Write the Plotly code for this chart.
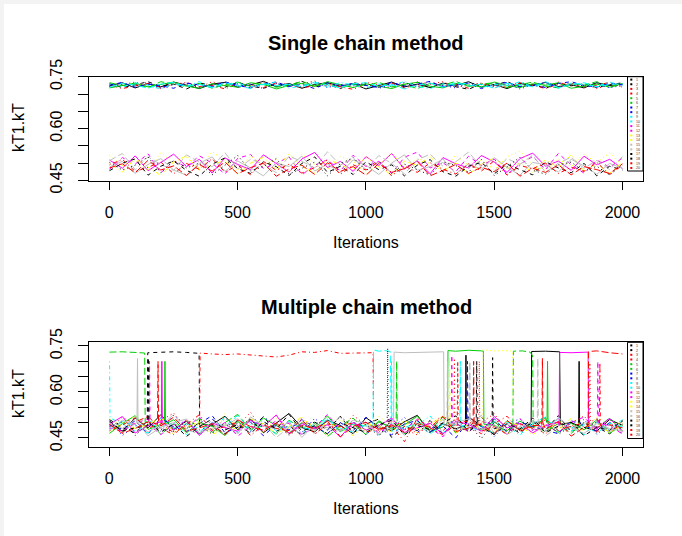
import numpy as np
import plotly.graph_objects as go

W, H = 682, 536

# ---------------- data: single chain method (20 chains, thinned trace) ----------------
s01 = [0.724,0.733,0.718,0.730,0.721,0.735,0.726,0.716,0.729,0.734,0.720,0.727,0.737,0.722,0.731,0.717,0.728,0.733,0.723,0.730,0.715,0.726,0.735,0.721,0.729,0.719,0.732,0.725,0.736,0.720,0.728,0.716,0.731,0.724,0.734,0.722,0.727,0.718,0.733,0.725,0.729]
s02 = [0.730,0.719,0.727,0.736,0.722,0.729,0.715,0.732,0.726,0.720,0.734,0.723,0.717,0.730,0.725,0.737,0.721,0.728,0.716,0.733,0.727,0.720,0.731,0.724,0.735,0.718,0.729,0.722,0.714,0.730,0.726,0.736,0.721,0.728,0.717,0.732,0.724,0.730,0.719,0.727,0.733]
s03 = [0.721,0.729,0.735,0.724,0.716,0.731,0.727,0.720,0.736,0.725,0.729,0.718,0.733,0.726,0.721,0.730,0.738,0.723,0.728,0.719,0.734,0.726,0.717,0.731,0.723,0.729,0.736,0.720,0.727,0.732,0.718,0.725,0.733,0.728,0.721,0.735,0.724,0.730,0.716,0.728,0.722]
s04 = [0.727,0.716,0.724,0.731,0.719,0.728,0.734,0.722,0.726,0.715,0.730,0.724,0.719,0.733,0.727,0.718,0.725,0.731,0.721,0.714,0.729,0.724,0.732,0.718,0.727,0.735,0.722,0.728,0.717,0.730,0.724,0.720,0.733,0.726,0.716,0.729,0.731,0.721,0.726,0.734,0.720]
s05 = [0.733,0.725,0.729,0.719,0.736,0.728,0.722,0.731,0.717,0.727,0.735,0.723,0.730,0.720,0.726,0.737,0.724,0.732,0.718,0.729,0.725,0.734,0.721,0.728,0.716,0.731,0.726,0.737,0.722,0.729,0.733,0.719,0.727,0.735,0.723,0.718,0.730,0.726,0.736,0.721,0.728]
s06 = [0.718,0.726,0.732,0.721,0.729,0.735,0.723,0.717,0.730,0.726,0.720,0.733,0.728,0.715,0.725,0.731,0.722,0.736,0.727,0.719,0.730,0.724,0.716,0.729,0.734,0.723,0.718,0.731,0.727,0.721,0.735,0.725,0.719,0.730,0.726,0.733,0.717,0.724,0.729,0.720,0.731]
s07 = [0.726,0.734,0.720,0.729,0.724,0.717,0.732,0.727,0.721,0.736,0.725,0.718,0.730,0.735,0.722,0.728,0.716,0.733,0.724,0.731,0.726,0.719,0.734,0.723,0.729,0.737,0.721,0.726,0.732,0.716,0.728,0.734,0.722,0.727,0.719,0.731,0.736,0.725,0.720,0.732,0.727]
s08 = [0.722,0.729,0.725,0.734,0.718,0.727,0.731,0.720,0.726,0.733,0.723,0.729,0.716,0.731,0.727,0.722,0.735,0.719,0.728,0.724,0.732,0.717,0.726,0.734,0.721,0.730,0.725,0.718,0.733,0.728,0.722,0.731,0.715,0.727,0.734,0.720,0.729,0.724,0.733,0.718,0.726]
s09 = [0.729,0.720,0.733,0.726,0.715,0.730,0.723,0.736,0.719,0.727,0.732,0.721,0.728,0.735,0.717,0.725,0.731,0.720,0.734,0.726,0.718,0.729,0.724,0.737,0.722,0.716,0.730,0.726,0.733,0.719,0.728,0.724,0.736,0.721,0.729,0.717,0.732,0.727,0.722,0.735,0.724]
s10 = [0.720,0.731,0.726,0.717,0.729,0.734,0.722,0.728,0.719,0.733,0.725,0.716,0.731,0.724,0.729,0.721,0.735,0.727,0.718,0.730,0.733,0.723,0.728,0.715,0.726,0.732,0.720,0.734,0.724,0.729,0.717,0.731,0.726,0.722,0.736,0.719,0.727,0.733,0.721,0.728,0.730]
s11 = [0.509,0.485,0.521,0.478,0.502,0.526,0.490,0.511,0.471,0.515,0.496,0.481,0.524,0.500,0.474,0.512,0.531,0.487,0.505,0.476,0.519,0.493,0.528,0.483,0.507,0.469,0.516,0.498,0.486,0.522,0.503,0.473,0.513,0.529,0.491,0.506,0.479,0.520,0.495,0.511,0.484]
s12 = [0.482,0.516,0.497,0.527,0.472,0.506,0.489,0.521,0.500,0.468,0.514,0.525,0.484,0.499,0.518,0.466,0.494,0.510,0.477,0.523,0.490,0.505,0.470,0.517,0.532,0.486,0.501,0.475,0.520,0.493,0.512,0.467,0.497,0.519,0.481,0.528,0.495,0.471,0.509,0.488,0.515]
s13 = [0.522,0.493,0.508,0.477,0.531,0.499,0.517,0.485,0.534,0.504,0.479,0.521,0.492,0.510,0.473,0.526,0.497,0.482,0.519,0.506,0.470,0.495,0.529,0.487,0.514,0.499,0.476,0.524,0.493,0.509,0.481,0.518,0.535,0.496,0.478,0.512,0.489,0.526,0.501,0.530,0.492]
s14 = [0.499,0.474,0.513,0.488,0.464,0.503,0.521,0.479,0.494,0.509,0.468,0.500,0.517,0.482,0.527,0.490,0.471,0.512,0.496,0.480,0.519,0.489,0.466,0.506,0.493,0.520,0.476,0.501,0.467,0.497,0.515,0.484,0.500,0.473,0.510,0.487,0.524,0.478,0.498,0.470,0.503]
s15 = [0.507,0.528,0.481,0.518,0.496,0.479,0.524,0.503,0.489,0.530,0.483,0.511,0.497,0.472,0.520,0.505,0.486,0.533,0.494,0.514,0.482,0.522,0.499,0.469,0.509,0.526,0.491,0.504,0.532,0.488,0.477,0.513,0.496,0.523,0.473,0.500,0.517,0.485,0.508,0.481,0.519]
s16 = [0.489,0.505,0.470,0.496,0.513,0.480,0.465,0.499,0.518,0.476,0.506,0.486,0.463,0.501,0.490,0.520,0.477,0.497,0.471,0.509,0.494,0.467,0.500,0.524,0.479,0.490,0.512,0.469,0.498,0.482,0.516,0.488,0.465,0.502,0.495,0.474,0.511,0.492,0.468,0.499,0.485]
s17 = [0.478,0.500,0.512,0.465,0.491,0.506,0.479,0.462,0.497,0.515,0.484,0.470,0.503,0.490,0.464,0.499,0.518,0.473,0.491,0.467,0.504,0.481,0.495,0.463,0.494,0.510,0.475,0.462,0.491,0.502,0.469,0.497,0.481,0.466,0.504,0.486,0.472,0.499,0.463,0.491,0.480]
s18 = [0.502,0.480,0.494,0.518,0.472,0.508,0.486,0.500,0.466,0.493,0.522,0.477,0.490,0.513,0.468,0.485,0.503,0.463,0.498,0.516,0.478,0.506,0.471,0.497,0.482,0.465,0.504,0.493,0.474,0.511,0.464,0.489,0.517,0.479,0.468,0.495,0.503,0.476,0.491,0.465,0.497]
s19 = [0.495,0.511,0.476,0.488,0.503,0.469,0.499,0.482,0.513,0.474,0.494,0.466,0.505,0.479,0.497,0.471,0.487,0.509,0.467,0.495,0.480,0.503,0.463,0.492,0.473,0.501,0.482,0.468,0.498,0.477,0.507,0.465,0.493,0.484,0.500,0.470,0.488,0.476,0.502,0.467,0.494]
s20 = [0.486,0.498,0.472,0.508,0.480,0.492,0.464,0.496,0.477,0.503,0.469,0.487,0.500,0.462,0.483,0.494,0.467,0.501,0.476,0.490,0.465,0.499,0.473,0.484,0.505,0.463,0.479,0.496,0.470,0.488,0.475,0.500,0.462,0.485,0.473,0.495,0.466,0.490,0.481,0.470,0.498]

# ---------------- data: multiple chain method (lower-mode trace per chain) ----------------
m01 = [0.501,0.472,0.515,0.483,0.526,0.478,0.505,0.463,0.494,0.521,0.477,0.511,0.467,0.498,0.530,0.484,0.470,0.508,0.491,0.464,0.516,0.487,0.474,0.503,0.524,0.469,0.496,0.480,0.518,0.490,0.462,0.506,0.476,0.513,0.493,0.468,0.500,0.485,0.473,0.510,0.491]
m02 = [0.510,0.484,0.466,0.504,0.475,0.496,0.525,0.469,0.492,0.463,0.509,0.481,0.519,0.472,0.490,0.458,0.502,0.477,0.521,0.466,0.495,0.512,0.452,0.488,0.474,0.507,0.464,0.499,0.471,0.517,0.480,0.494,0.465,0.503,0.476,0.523,0.470,0.497,0.486,0.463,0.505]
m03 = [0.480,0.518,0.494,0.468,0.507,0.531,0.481,0.498,0.473,0.513,0.489,0.534,0.470,0.502,0.483,0.515,0.462,0.496,0.476,0.524,0.491,0.469,0.505,0.479,0.460,0.497,0.521,0.472,0.488,0.501,0.529,0.475,0.494,0.466,0.511,0.482,0.497,0.522,0.470,0.492,0.478]
m04 = [0.494,0.467,0.502,0.520,0.481,0.461,0.497,0.473,0.511,0.485,0.465,0.496,0.478,0.506,0.469,0.491,0.517,0.477,0.459,0.500,0.481,0.471,0.509,0.488,0.466,0.503,0.474,0.513,0.486,0.464,0.497,0.521,0.472,0.489,0.463,0.504,0.477,0.494,0.512,0.470,0.496]
m05 = [0.517,0.488,0.472,0.506,0.462,0.496,0.479,0.514,0.468,0.500,0.527,0.475,0.491,0.464,0.508,0.482,0.498,0.455,0.489,0.515,0.473,0.502,0.485,0.463,0.505,0.477,0.518,0.466,0.494,0.476,0.506,0.459,0.491,0.523,0.471,0.497,0.465,0.502,0.481,0.516,0.474]
m06 = [0.465,0.497,0.523,0.478,0.494,0.510,0.467,0.501,0.488,0.458,0.504,0.476,0.515,0.491,0.466,0.500,0.481,0.522,0.471,0.496,0.461,0.506,0.479,0.493,0.521,0.470,0.486,0.502,0.464,0.511,0.491,0.474,0.505,0.483,0.517,0.468,0.498,0.477,0.509,0.465,0.494]
m07 = [0.491,0.479,0.506,0.463,0.516,0.486,0.471,0.497,0.523,0.467,0.484,0.502,0.457,0.494,0.476,0.510,0.486,0.465,0.500,0.474,0.518,0.481,0.460,0.496,0.507,0.471,0.489,0.450,0.497,0.480,0.513,0.468,0.502,0.487,0.475,0.464,0.506,0.491,0.473,0.500,0.485]
m08 = [0.506,0.458,0.489,0.501,0.472,0.524,0.491,0.463,0.511,0.482,0.497,0.470,0.520,0.487,0.502,0.468,0.514,0.478,0.491,0.506,0.461,0.495,0.482,0.517,0.469,0.489,0.464,0.504,0.479,0.493,0.455,0.497,0.512,0.474,0.487,0.501,0.472,0.511,0.462,0.496,0.480]
m09 = [0.512,0.497,0.472,0.509,0.484,0.501,0.461,0.490,0.478,0.518,0.467,0.494,0.505,0.474,0.489,0.463,0.498,0.512,0.482,0.469,0.495,0.460,0.507,0.480,0.491,0.522,0.467,0.497,0.484,0.473,0.503,0.489,0.459,0.501,0.481,0.513,0.472,0.494,0.466,0.498,0.487]
m10 = [0.478,0.503,0.491,0.465,0.515,0.482,0.497,0.470,0.501,0.487,0.524,0.474,0.494,0.462,0.505,0.484,0.476,0.513,0.468,0.497,0.489,0.520,0.472,0.484,0.499,0.463,0.495,0.507,0.476,0.490,0.465,0.503,0.480,0.496,0.519,0.471,0.487,0.460,0.501,0.477,0.510]
m11 = [0.495,0.520,0.466,0.490,0.503,0.475,0.509,0.458,0.499,0.484,0.472,0.507,0.488,0.525,0.464,0.497,0.480,0.493,0.453,0.501,0.476,0.490,0.515,0.468,0.482,0.498,0.462,0.505,0.494,0.472,0.520,0.483,0.497,0.467,0.490,0.503,0.459,0.496,0.480,0.514,0.470]
m12 = [0.483,0.473,0.498,0.512,0.461,0.494,0.482,0.519,0.469,0.501,0.456,0.489,0.474,0.507,0.497,0.462,0.484,0.527,0.476,0.490,0.502,0.466,0.496,0.477,0.511,0.483,0.454,0.499,0.469,0.505,0.489,0.462,0.513,0.476,0.495,0.468,0.501,0.518,0.474,0.489,0.463]
m13 = [0.513,0.489,0.524,0.477,0.497,0.462,0.506,0.493,0.475,0.529,0.483,0.499,0.468,0.514,0.480,0.502,0.492,0.458,0.509,0.486,0.474,0.520,0.490,0.499,0.466,0.494,0.511,0.482,0.471,0.504,0.495,0.526,0.477,0.491,0.464,0.506,0.484,0.475,0.518,0.493,0.500]
m14 = [0.468,0.500,0.481,0.494,0.516,0.471,0.486,0.503,0.459,0.490,0.478,0.512,0.496,0.464,0.488,0.520,0.474,0.500,0.483,0.458,0.498,0.488,0.470,0.508,0.479,0.493,0.523,0.466,0.496,0.481,0.471,0.504,0.490,0.460,0.496,0.477,0.514,0.486,0.498,0.467,0.492]
m15 = [0.500,0.481,0.508,0.469,0.492,0.526,0.479,0.462,0.502,0.489,0.514,0.475,0.498,0.451,0.486,0.504,0.473,0.494,0.518,0.465,0.487,0.480,0.501,0.459,0.496,0.471,0.510,0.490,0.477,0.524,0.467,0.494,0.483,0.506,0.456,0.489,0.475,0.500,0.487,0.470,0.503]
m16 = [0.474,0.508,0.493,0.457,0.485,0.500,0.512,0.467,0.481,0.496,0.463,0.519,0.490,0.479,0.502,0.452,0.494,0.484,0.473,0.508,0.498,0.462,0.485,0.523,0.475,0.489,0.468,0.500,0.512,0.477,0.494,0.461,0.487,0.502,0.470,0.517,0.483,0.465,0.497,0.481,0.473]
m17 = [0.505,0.473,0.483,0.520,0.469,0.496,0.455,0.487,0.512,0.476,0.494,0.465,0.503,0.480,0.527,0.472,0.490,0.463,0.499,0.483,0.468,0.493,0.508,0.460,0.491,0.477,0.499,0.522,0.471,0.486,0.461,0.497,0.479,0.515,0.467,0.489,0.502,0.457,0.485,0.475,0.507]
m18 = [0.487,0.503,0.458,0.496,0.479,0.471,0.506,0.491,0.463,0.500,0.481,0.514,0.469,0.494,0.459,0.487,0.502,0.475,0.520,0.486,0.494,0.456,0.481,0.503,0.490,0.467,0.498,0.477,0.492,0.449,0.501,0.483,0.471,0.496,0.508,0.462,0.489,0.479,0.503,0.493,0.465]
m19 = [0.473,0.492,0.516,0.481,0.499,0.467,0.493,0.526,0.475,0.487,0.503,0.458,0.492,0.481,0.474,0.510,0.463,0.496,0.487,0.500,0.469,0.478,0.489,0.438,0.514,0.483,0.460,0.495,0.505,0.472,0.487,0.462,0.497,0.481,0.511,0.474,0.489,0.499,0.469,0.493,0.483]
m20 = [0.495,0.465,0.481,0.503,0.489,0.518,0.472,0.483,0.497,0.460,0.509,0.487,0.475,0.499,0.463,0.491,0.480,0.505,0.454,0.488,0.501,0.477,0.493,0.468,0.497,0.485,0.520,0.471,0.482,0.495,0.465,0.507,0.474,0.491,0.478,0.503,0.456,0.485,0.497,0.472,0.487]

# visits of the multiple-chain sampler to the upper mode: chain -> list of (iteration, value) runs
m_upper_runs = {
    5:  [[(1, 0.730), (50, 0.731), (100, 0.729), (138, 0.727), (140, 0.500)],
         [(1118, 0.495), (1120, 0.700), (1122, 0.500)],
         [(1573, 0.490), (1575, 0.733), (1610, 0.734), (1640, 0.730), (1650, 0.718), (1652, 0.490)]],
    9:  [[(1, 0.700), (3, 0.515)],
         [(1098, 0.500), (1100, 0.700), (1102, 0.490)]],
    2:  [[(148, 0.505), (150, 0.728), (200, 0.729), (250, 0.731), (300, 0.729), (350, 0.726), (352, 0.495)],
         [(1492, 0.490), (1494, 0.712), (1496, 0.500)]],
    4:  [[(352, 0.490), (354, 0.727), (400, 0.724), (450, 0.722), (500, 0.724), (550, 0.720), (600, 0.716),
          (650, 0.714), (700, 0.720), (750, 0.731), (800, 0.729), (850, 0.735), (900, 0.726), (950, 0.727),
          (1000, 0.727), (1028, 0.728), (1030, 0.500)]],
    10: [[(1028, 0.490), (1030, 0.737), (1050, 0.733), (1075, 0.735), (1095, 0.732), (1100, 0.495)],
         [(1366, 0.500), (1368, 0.700), (1370, 0.490)]],
    16: [[(108, 0.505), (110, 0.709), (112, 0.498)],
         [(1108, 0.500), (1110, 0.730), (1150, 0.728), (1200, 0.729), (1250, 0.728), (1290, 0.730), (1303, 0.731), (1305, 0.490)]],
    6:  [[(215, 0.500), (217, 0.700), (219, 0.495)],
         [(1318, 0.500), (1320, 0.735), (1350, 0.733), (1400, 0.736), (1450, 0.734), (1458, 0.733), (1460, 0.495)],
         [(1706, 0.500), (1708, 0.700), (1710, 0.490)]],
    13: [[(1455, 0.490), (1457, 0.738), (1500, 0.734), (1540, 0.735), (1572, 0.733), (1575, 0.500)]],
    1:  [[(1388, 0.490), (1390, 0.720), (1392, 0.500)],
         [(1644, 0.500), (1646, 0.732), (1700, 0.733), (1755, 0.731), (1758, 0.495)],
         [(1829, 0.490), (1831, 0.700), (1833, 0.500)]],
    11: [[(203, 0.490), (205, 0.700), (207, 0.500)],
         [(1753, 0.490), (1755, 0.729), (1800, 0.728), (1850, 0.729), (1866, 0.730), (1868, 0.500)]],
    20: [[(188, 0.495), (190, 0.700), (192, 0.505)],
         [(1418, 0.500), (1420, 0.700), (1422, 0.490)],
         [(1686, 0.490), (1688, 0.710), (1690, 0.500)],
         [(1866, 0.490), (1868, 0.732), (1900, 0.734), (1950, 0.728), (2000, 0.724)]],
    17: [[(150, 0.490), (152, 0.712), (154, 0.500)],
         [(1430, 0.490), (1432, 0.700), (1434, 0.500)]],
    12: [[(155, 0.500), (157, 0.700), (159, 0.490)],
         [(1333, 0.490), (1335, 0.720), (1337, 0.495)],
         [(1902, 0.490), (1904, 0.700), (1906, 0.500)]],
    18: [[(1083, 0.490), (1085, 0.742), (1087, 0.500)]],
    15: [[(1316, 0.490), (1318, 0.700), (1320, 0.500)],
         [(1403, 0.490), (1405, 0.700), (1407, 0.495)],
         [(1668, 0.500), (1670, 0.710), (1672, 0.490)]],
    14: [[(1324, 0.500), (1326, 0.715), (1328, 0.490)]],
    3:  [[(1343, 0.500), (1345, 0.710), (1347, 0.490)],
         [(1440, 0.500), (1442, 0.700), (1444, 0.490)],
         [(1871, 0.500), (1873, 0.695), (1875, 0.490)]],
    19: [[(1356, 0.490), (1358, 0.700), (1360, 0.500)],
         [(1910, 0.500), (1912, 0.695), (1914, 0.490)]],
    7:  [[(1394, 0.500), (1396, 0.700), (1398, 0.490)]],
}

single_chains = [s01, s02, s03, s04, s05, s06, s07, s08, s09, s10,
                 s11, s12, s13, s14, s15, s16, s17, s18, s19, s20]
multi_chains = [m01, m02, m03, m04, m05, m06, m07, m08, m09, m10,
                m11, m12, m13, m14, m15, m16, m17, m18, m19, m20]
chain_labels = [str(k) for k in range(1, 21)]
x_ticks = [0, 500, 1000, 1500, 2000]
y_ticks = [0.45, 0.50, 0.55, 0.60, 0.65, 0.70, 0.75]
y_ticktext = ["0.45", "", "", "0.60", "", "", "0.75"]

# ---------------- styling ----------------
PAL = ["#000000", "#FF0000", "#00CD00", "#0000FF", "#00FFFF", "#FF00FF", "#FFFF00", "#BEBEBE"]
DASHES = ["solid", "4px,4px", "1px,3px", "1px,3px,4px,3px", "7px,3px"]
chain_colors = [PAL[(k // 2) % 8] for k in range(20)]
chain_dash = [DASHES[k % 5] for k in range(20)]
FONT = "Liberation Sans, Arial, Helvetica, sans-serif"

def px(xp):
    return xp / W

def py(yp):
    return 1 - yp / H

fig = go.Figure()

for k, vals in enumerate(single_chains):
    fig.add_trace(go.Scatter(
        x=np.linspace(1, 2000, len(vals)), y=vals, mode="lines",
        line=dict(color=chain_colors[k], width=1, dash=chain_dash[k]),
        xaxis="x", yaxis="y", showlegend=False, hoverinfo="skip"))

for k, vals in enumerate(multi_chains):
    c = k + 1
    pts = list(zip(np.linspace(1, 2000, len(vals)), vals))
    for run in m_upper_runs.get(c, []):
        lo, hi = run[0][0], run[-1][0]
        pts = [p for p in pts if not (lo <= p[0] <= hi)] + list(run)
    pts.sort(key=lambda p: p[0])
    fig.add_trace(go.Scatter(
        x=[p[0] for p in pts], y=[p[1] for p in pts], mode="lines",
        line=dict(color=chain_colors[k], width=1, dash=chain_dash[k]),
        xaxis="x2", yaxis="y2", showlegend=False, hoverinfo="skip"))

XDOM = [px(89), px(643)]
axis_common = dict(showgrid=False, zeroline=False, showline=True, linecolor="#000000",
                   linewidth=1, mirror=True, ticks="outside", tickcolor="#000000",
                   tickwidth=1, automargin=False,
                   tickfont=dict(family=FONT, size=16, color="#000000"))

fig.update_layout(
    template="none",
    width=W, height=H, autosize=False,
    margin=dict(l=0, r=0, t=0, b=0, pad=0, autoexpand=False),
    paper_bgcolor="#f3f3f3", plot_bgcolor="#ffffff",
    xaxis=dict(domain=XDOM, range=[-79, 2080], tickvals=x_ticks, ticklen=8,
               ticklabelstandoff=9, anchor="y", **axis_common),
    yaxis=dict(domain=[py(180.7), py(76.7)], range=[0.449, 0.7505], tickvals=y_ticks,
               ticktext=y_ticktext, tickangle=-90, ticklen=10, ticklabelstandoff=10,
               anchor="x", **axis_common),
    xaxis2=dict(domain=XDOM, range=[-79, 2080], tickvals=x_ticks, ticklen=8,
                ticklabelstandoff=9, anchor="y2", **axis_common),
    yaxis2=dict(domain=[py(446.7), py(342.3)], range=[0.4216, 0.762], tickvals=y_ticks,
                ticktext=y_ticktext, tickangle=-90, ticklen=10, ticklabelstandoff=10,
                anchor="x2", **axis_common),
)

shapes = [dict(type="rect", xref="paper", yref="paper", x0=px(4), x1=1, y0=0, y1=py(4),
               fillcolor="#ffffff", line=dict(width=0), layer="below")]
annotations = []

def add_text(text, x, y, size, bold=False, angle=0):
    annotations.append(dict(text=("<b>%s</b>" % text) if bold else text, x=px(x), y=py(y),
                            xref="paper", yref="paper", showarrow=False, textangle=angle,
                            xanchor="center", yanchor="middle",
                            font=dict(family=FONT, size=size, color="#000000")))

add_text("Single chain method", 366, 43, 20, bold=True)
add_text("Multiple chain method", 366, 307, 20, bold=True)
add_text("Iterations", 366, 242, 16)
add_text("Iterations", 366, 508, 16)
add_text("kT1.kT", 18, 128, 16, angle=-90)
add_text("kT1.kT", 18, 394, 16, angle=-90)

# in-plot legends (chain numbers): one text block per legend, squares as shapes
for top, bottom, first, step in [(76.7, 171, 79.6, 4.65), (342.3, 438.5, 345.4, 4.7)]:
    shapes.append(dict(type="rect", xref="paper", yref="paper", x0=px(627.5), x1=px(643),
                       y0=py(bottom), y1=py(top), line=dict(color="#000000", width=1),
                       fillcolor="rgba(0,0,0,0)"))
    for k in range(20):
        yy = first + k * step
        shapes.append(dict(type="rect", xref="paper", yref="paper", x0=px(630.3), x1=px(632.3),
                           y0=py(yy + 1), y1=py(yy - 1), line=dict(width=0),
                           fillcolor=chain_colors[k]))
    mid = first + 9.5 * step
    annotations.append(dict(text="<br>".join(chain_labels), x=px(634.3), y=py(mid),
                            xref="paper", yref="paper", showarrow=False, xanchor="left",
                            yanchor="middle", align="left",
                            font=dict(family=FONT, size=step / 1.3, color="#333333")))

fig.update_layout(shapes=shapes, annotations=annotations)
fig.write_html("out.html", config={"displayModeBar": False},
               post_script="document.body.style.margin='0px';")
